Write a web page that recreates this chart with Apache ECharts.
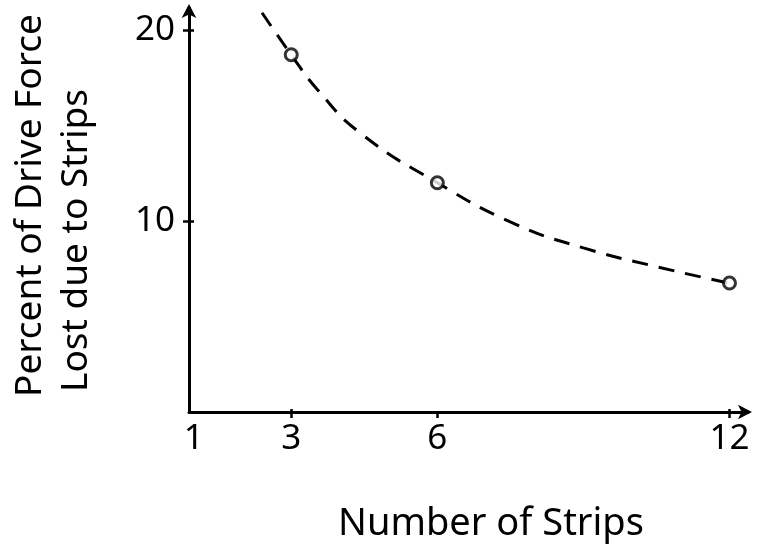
<!DOCTYPE html>
<html>
<head>
<meta charset="utf-8">
<script src="https://cdn.jsdelivr.net/npm/echarts@6/dist/echarts.min.js"></script>
<style>
  html, body { margin: 0; padding: 0; background: #fff; }
  #chart { width: 757px; height: 559px; }
</style>
</head>
<body>
<div id="chart"></div>
<script>
// Measured points: number of strips vs. percent of drive force lost
const stripCounts = [3, 6, 12];
const percentLost = [18.7, 12.0, 6.75];

// Dashed trend curve traced through the measurements
const curveX = [2.4, 3, 3.53, 4.42, 6, 7.6, 9.0, 10.45, 12];
const curveY = [20.9, 18.7, 16.9, 14.6, 12.0, 9.84, 8.59, 7.64, 6.74];

// Tick labels
const xTickValues = [1, 3, 6, 12];
const yTickValues = [10, 20];

const xTitle = 'Number of Strips';
const yTitleLine1 = 'Percent of Drive Force';
const yTitleLine2 = 'Lost due to Strips';

const FONT = '"Noto Sans", sans-serif';

const chart = echarts.init(document.getElementById('chart'), null, { renderer: 'canvas' });

const xRange = { min: 0.9, max: 12.38 };
const yRange = { min: 0, max: 21.15 };

chart.setOption({
  backgroundColor: '#fff',
  animation: false,
  grid: { left: 189, right: 9, top: 8, bottom: 147, containLabel: false, outerBoundsMode: 'none' },
  xAxis: [
    {
      type: 'value', min: xRange.min, max: xRange.max,
      axisLine: { show: true, symbol: ['none', 'arrow'], symbolSize: [11, 14], symbolOffset: [0, 4],
        lineStyle: { color: '#000', width: 3 } },
      axisTick: { show: true, length: 6, customValues: [3, 6, 12], lineStyle: { color: '#000', width: 2.5 } },
      axisLabel: { show: true, customValues: xTickValues, margin: 10, color: '#000',
        fontFamily: FONT, fontSize: 35 },
      splitLine: { show: false }
    },
    {
      type: 'value', min: xRange.min, max: xRange.max, position: 'bottom',
      axisLine: { show: false },
      axisTick: { show: true, inside: true, length: 3, customValues: [3, 12], lineStyle: { color: '#000', width: 2.5 } },
      axisLabel: { show: false },
      splitLine: { show: false }
    }
  ],
  yAxis: [
    {
      type: 'value', min: yRange.min, max: yRange.max,
      axisLine: { show: true, symbol: ['none', 'arrow'], symbolSize: [11, 14], symbolOffset: [0, 4],
        lineStyle: { color: '#000', width: 3 } },
      axisTick: { show: true, length: 6, customValues: yTickValues, lineStyle: { color: '#000', width: 2.5 } },
      axisLabel: { show: true, customValues: yTickValues, margin: 14, color: '#000',
        fontFamily: FONT, fontSize: 35 },
      splitLine: { show: false }
    },
    {
      type: 'value', min: yRange.min, max: yRange.max, position: 'left',
      axisLine: { show: false },
      axisTick: { show: true, inside: true, length: 5, customValues: yTickValues, lineStyle: { color: '#000', width: 2.5 } },
      axisLabel: { show: false },
      splitLine: { show: false }
    }
  ],
  series: [
    {
      type: 'line',
      data: curveX.map((x, i) => [x, curveY[i]]),
      smooth: 0.5,
      showSymbol: false,
      symbol: 'none',
      lineStyle: { color: '#000', width: 3, type: [16, 11] },
      z: 2
    },
    {
      type: 'scatter',
      data: stripCounts.map((x, i) => [x, percentLost[i]]),
      symbol: 'circle',
      symbolSize: 12,
      itemStyle: { color: '#fff', borderColor: '#000', borderWidth: 3 },
      z: 3
    }
  ],
  graphic: [
    {
      type: 'text', x: 491, y: 524,
      style: { text: xTitle, fill: '#000', font: '38px ' + FONT, align: 'center', verticalAlign: 'middle' }
    },
    {
      type: 'text', x: 30, y: 397, rotation: Math.PI / 2,
      style: { text: yTitleLine1, fill: '#000', font: '37px ' + FONT, align: 'left', verticalAlign: 'middle' }
    },
    {
      type: 'text', x: 76, y: 392, rotation: Math.PI / 2,
      style: { text: yTitleLine2, fill: '#000', font: '37px ' + FONT, align: 'left', verticalAlign: 'middle' }
    }
  ]
});
</script>
</body>
</html>
